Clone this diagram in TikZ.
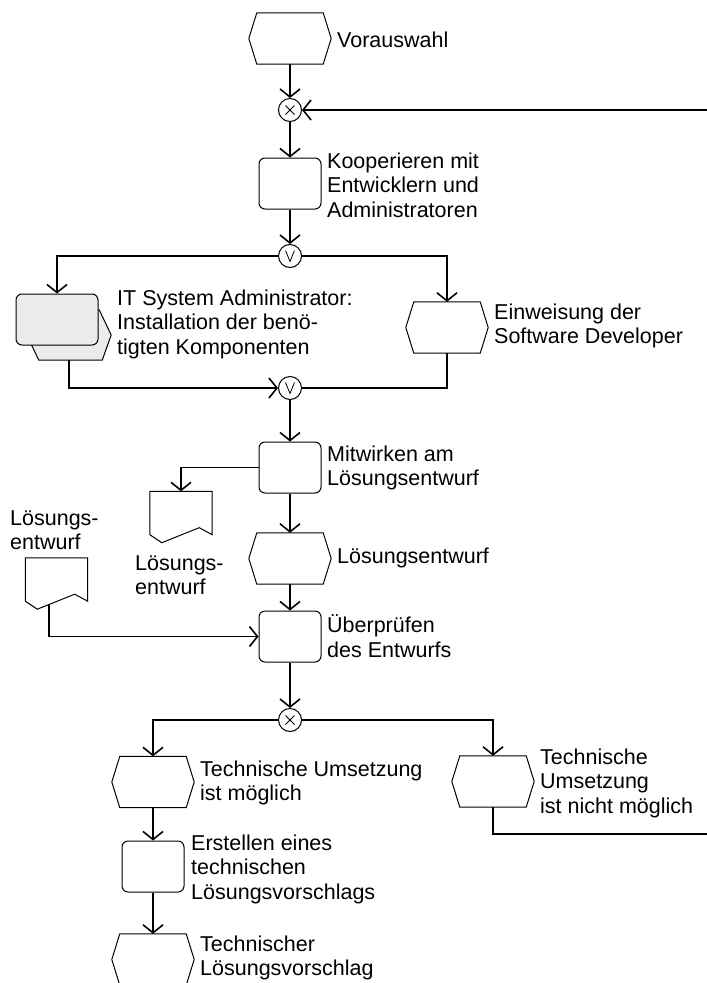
\documentclass[tikz,border=0pt]{standalone}
\usepackage{fontspec}
\setmainfont{Liberation Sans}
\usetikzlibrary{arrows.meta,calc}

\definecolor{ifill}{HTML}{EBEBEB}

\begin{document}
\begin{tikzpicture}[x=1pt,y=-1pt,
  conn/.style={line width=1.6pt},
  arr/.style={conn,-{Straight Barb[length=8pt,width=20pt,line width=1.6pt]}},
  shp/.style={line width=1pt},
  func/.style={shp,draw,rounded corners=6pt,minimum width=62pt,minimum height=51pt,inner sep=0pt},
  evt/.style={minimum width=82pt,minimum height=51pt,inner sep=0pt},
  docu/.style={minimum width=62pt,minimum height=43pt,inner sep=0pt},
  gate/.style={circle,draw,shp,minimum size=23pt,inner sep=0pt},
  lbl/.style={anchor=west,align=left,inner sep=0pt,font=\fontsize{21.5}{24.5}\selectfont},
]
\useasboundingbox (0,0) rectangle (707,983);
\clip (0,0) rectangle (707,983);

% events (hexagons are drawn onto these nodes below)
\node[evt] (vor) at (290,38.5) {};
\node[evt] (ein) at (447,327.5) {};
\node[evt] (lsg) at (290,558.5) {};
\node[evt] (tm)  at (153,782) {};
\node[evt] (tn)  at (493,781.5) {};
\node[evt] (tv)  at (153,959.5) {};

% functions
\node[func] (koop) at (290,183.5) {};
\node[func] (mit)  at (290,467.5) {};
\node[func] (ueb)  at (290,636.5) {};
\node[func] (erst) at (153,866.5) {};

% process interface: hexagon behind a shaded function box
\node[evt,minimum width=84pt,minimum height=50pt] (itb) at (69,335) {};
\draw[shp,fill=ifill] ($(itb.north west)+(12,0)$) -- ($(itb.north east)+(-12,0)$) -- (itb.east)
  -- ($(itb.south east)+(-9,0)$) -- ($(itb.south west)+(12,0)$) -- (itb.west) -- cycle;
\node[func,fill=ifill,minimum width=82pt] (itf) at (57,319.5) {};

% documents
\node[docu] (doc1) at (181,513) {};
\node[docu] (ldoc) at (56.5,579.5) {};
\foreach \n in {doc1,ldoc}
  \draw[shp] (\n.north west) -- (\n.north east) -- (\n.south east) -- ++(-13,-7)
    -- ($(\n.south west)+(12,8)$) -- (\n.south west) -- cycle;

\foreach \n in {vor,ein,lsg,tm,tn,tv}
  \draw[shp] ($(\n.north west)+(8,0)$) -- ($(\n.north east)+(-8,0)$) -- (\n.east)
    -- ($(\n.south east)+(-8,0)$) -- ($(\n.south west)+(8,0)$) -- (\n.west) -- cycle;

% connectors (rules)
\node[gate] (x1) at (290,110) {};
\node[gate] (o1) at (290,256) {};
\node[gate] (o2) at (290,388) {};
\node[gate] (x2) at (290,720) {};
\foreach \n in {x1,x2}
  \draw[line width=0.8pt] ($(\n)+(-4.5,-4.5)$) -- ($(\n)+(4.5,4.5)$)
    ($(\n)+(-4.5,4.5)$) -- ($(\n)+(4.5,-4.5)$);
\foreach \n in {o1,o2}
  \draw[line width=0.8pt] ($(\n)+(-4.5,-5.5)$) -- ($(\n)+(0,5.5)$) -- ($(\n)+(4.5,-5.5)$);

% labels
\node[lbl] (tvor)  at (337,40)  {Vorauswahl};
\node[lbl] (tkoop) at (327,185) {Kooperieren mit\\Entwicklern und\\Administratoren};
\node[lbl] (tit)   at (117,324) {IT System Administrator:\\Installation der benö-\\tigten Komponenten};
\node[lbl] (tein)  at (494,326) {Einweisung der\\Software Developer};
\node[lbl] (tmit)  at (327,468) {Mitwirken am\\Lösungsentwurf};
\node[lbl] (tdoc1) at (135,575) {Lösungs-\\entwurf};
\node[lbl] (tlsg)  at (337,558) {Lösungsentwurf};
\node[lbl] (tldoc) at (10,530)  {Lösungs-\\entwurf};
\node[lbl] (tueb)  at (327,636) {Überprüfen\\des Entwurfs};
\node[lbl] (ttm)   at (200,783) {Technische Umsetzung\\ist möglich};
\node[lbl] (ttn)   at (540,783) {Technische\\Umsetzung\\ist nicht möglich};
\node[lbl] (terst) at (191,869) {Erstellen eines\\technischen\\Lösungsvorschlags};
\node[lbl] (ttv)   at (200,958) {Technischer\\Lösungsvorschlag};

% off-page ends of the loop
\coordinate (loopin)  at (707,110);
\coordinate (loopout) at (707,834);
\coordinate (ldocout) at (49,605);

% control flow
\draw[arr] (vor) -- (x1);
\draw[arr] (loopin) -- (x1);
\draw[arr] (x1) -- (koop);
\draw[arr] (koop) -- (o1);
\draw[arr] (o1) -| (itf.north);
\draw[arr] (o1) -| (ein.north);
\draw[arr] (itb.south) |- (o2);
\draw[conn] (ein.south) |- (o2);
\draw[arr] (o2) -- (mit);
\draw[arr] (mit.west) -| (doc1.north);
\draw[arr] (mit) -- (lsg);
\draw[arr] (lsg) -- (ueb);
\draw[arr] (ldocout) |- (ueb.west);
\draw[arr] (ueb) -- (x2);
\draw[arr] (x2) -| (tm.north);
\draw[arr] (x2) -| (tn.north);
\draw[conn] (tn.south) |- (loopout);
\draw[arr] (tm) -- (erst);
\draw[arr] (erst) -- (tv);
\end{tikzpicture}
\end{document}
